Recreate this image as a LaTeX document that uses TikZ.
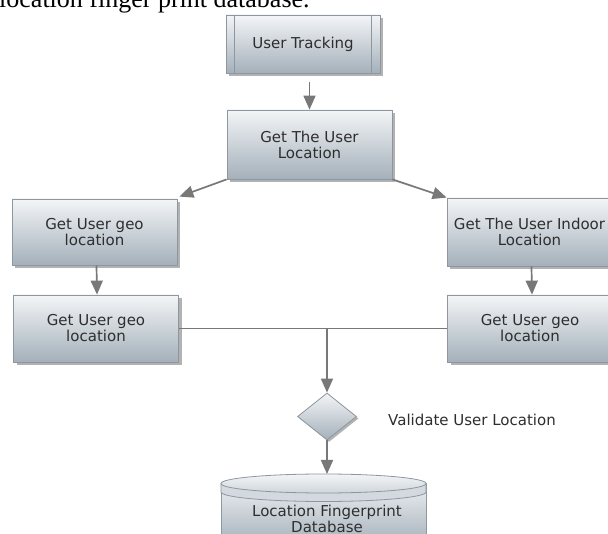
\documentclass[tikz,border=0pt]{standalone}
\usepackage{fontspec}
\setmainfont{DejaVu Sans}
\newfontfamily\pageserif{Liberation Serif}
\usetikzlibrary{arrows.meta,shapes.geometric,shadows,calc}
\definecolor{boxtop}{HTML}{F3F5F7}
\definecolor{boxbot}{HTML}{A4B0BA}
\definecolor{boxedge}{HTML}{8E979F}
\definecolor{arr}{HTML}{787878}
\definecolor{txt}{HTML}{2E2E2E}
\tikzset{
  box/.style={draw=boxedge, line width=0.8pt, top color=boxtop, bottom color=boxbot,
    minimum width=165pt, minimum height=67pt, inner sep=0pt, align=center,
    font=\fontsize{15}{16}\selectfont, text=txt,
    drop shadow={shadow xshift=3pt, shadow yshift=-3pt, fill=black, opacity=0.3}},
  flow/.style={draw=arr, line width=1.7pt, -{Triangle[width=12pt,length=14pt]}},
  plain/.style={draw=arr, line width=1.5pt},
  lbl/.style={font=\fontsize{15}{15}\selectfont, text=txt, inner sep=0pt},
}
\begin{document}
\begin{tikzpicture}[x=1pt,y=-1pt]
\useasboundingbox (0,0) rectangle (608,534);
\clip (0,0) rectangle (608,534);
\fill[white] (0,0) rectangle (608,534);

% page text cut at the top
\node[anchor=base west, inner sep=0pt, font=\pageserif\fontsize{26}{28}\selectfont] (pagetext) at (-1,8) {location finger print database.};

% boxes
\node[box, minimum width=154pt, minimum height=58pt] (ut) at (303,44) {User Tracking};
\draw[boxedge, line width=0.8pt] ([xshift=9pt]ut.north west) -- ([xshift=9pt]ut.south west)
  ([xshift=-9pt]ut.north east) -- ([xshift=-9pt]ut.south east);
\node[box, minimum height=69pt] (gtul) at (309.5,144.5) {Get The User\\Location};
\node[box, minimum height=66pt] (l1) at (94.5,232) {Get User geo\\location};
\node[box] (l2) at (96,328.5) {Get User geo\\location};
\node[box, minimum height=68pt] (r1) at (529.5,232) {Get The User Indoor\\Location};
\node[box] (r2) at (530,328.5) {Get User geo\\location};
\node[draw=boxedge, line width=0.8pt, top color=boxtop, bottom color=boxbot, shape=diamond,
  minimum width=59pt, minimum height=47pt, inner sep=0pt,
  drop shadow={shadow xshift=2pt, shadow yshift=-2pt, fill=black, opacity=0.3}] (d) at (327,416.5) {};
\node[lbl, anchor=west] (vl) at (388,420) {Validate User Location};

% database cylinder
\path[draw=boxedge, line width=0.8pt, top color=boxtop!90!boxbot, bottom color=boxbot]
  (221,483.5) -- (221,546) -- (426,546) -- (426,483.5) -- cycle;
\draw[boxedge, line width=0.8pt, fill=boxtop!60!boxbot] (221,492) arc[start angle=180, end angle=360, x radius=102.5pt, y radius=9.5pt] -- (426,483.5) -- (221,483.5) -- cycle;
\draw[boxedge, line width=0.8pt, top color=boxtop, bottom color=boxtop!55!boxbot] (323.5,483.5) ellipse [x radius=102.5pt, y radius=9.5pt];
\node[lbl, align=center, font=\fontsize{15}{14.5}\selectfont] (db) at (327,519) {Location Fingerprint\\Database};
\coordinate (dbtop) at (327,474);

% connectors
\draw[flow] ($(ut.south -| gtul.north)+(0,9)$) -- (gtul.north);
\draw[flow] (gtul.south west) -- ([xshift=2pt,yshift=2pt]l1.north east);
\draw[flow] (gtul.south east) -- (r1.north west);
\draw[flow] ([xshift=2pt]l1.south) -- ([xshift=1pt]l2.north);
\draw[flow] ([xshift=2pt]r1.south) -- ([xshift=2pt]r2.north);
\draw[plain] (l2.east) -- (r2.west);
\coordinate (j) at (d.north |- l2.east);
\draw[flow] (j) -- (d.north);
\draw[flow] (d.south) -- (dbtop);
\end{tikzpicture}
\end{document}
